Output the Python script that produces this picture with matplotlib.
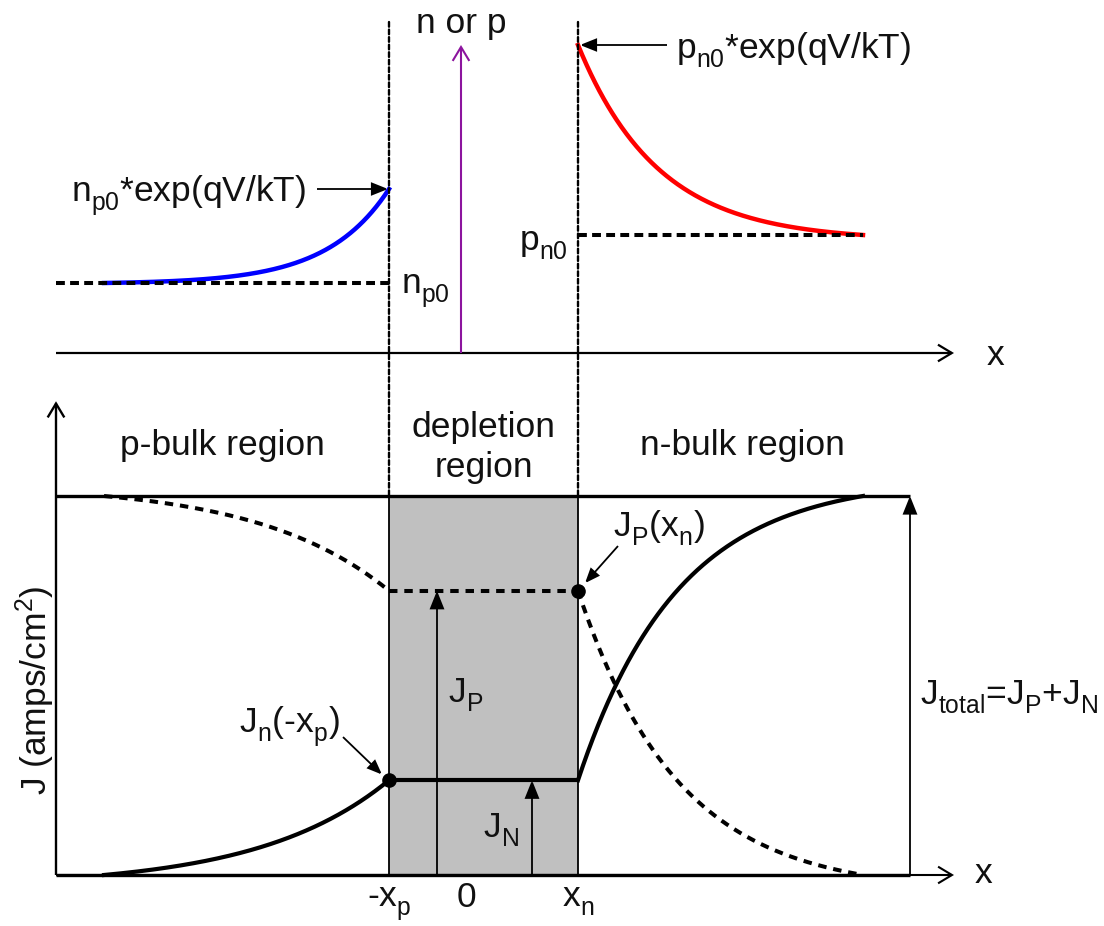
import numpy as np
import matplotlib
matplotlib.use("Agg")
import matplotlib.pyplot as plt
from matplotlib.patches import FancyArrowPatch, Rectangle, ConnectionPatch

plt.rcParams['font.family'] = ['Liberation Sans', 'DejaVu Sans']
plt.rcParams['mathtext.fontset'] = 'custom'
plt.rcParams['mathtext.rm'] = 'Liberation Sans'

# Lower subscripts a little further below the baseline
try:
    import matplotlib._mathtext as _mt
    _mt.FontConstantsBase.sub1 = 0.5
except Exception:
    pass

# ---- positions along the device (0 = metallurgical junction) ----
X_P_EDGE = -0.72        # -x_p, edge of depletion region on the p side
X_N_EDGE = 1.17         # x_n, edge of depletion region on the n side
BULK_LEFT = -3.57       # end of plotted p-bulk profile
BULK_RIGHT = 4.02       # end of plotted n-bulk profile
AXIS_START = -4.05
AXIS_END = 4.93
J_TOTAL_X = 4.49
JP_ARROW_X = -0.24
JN_ARROW_X = 0.71

# ---- minority carrier concentrations (arbitrary units) ----
n_p0 = 0.70
n_p_edge = 1.64         # n_p0*exp(qV/kT)
p_n0 = 1.18
p_n_edge = 3.08         # p_n0*exp(qV/kT)
L_n = 0.62              # electron diffusion length in the p bulk
L_p = 0.80              # hole diffusion length in the n bulk

# ---- current densities (normalised to J_total) ----
J_total = 1.0
J_n_edge = 0.25         # J_n(-x_p)
J_p_edge = 0.75         # J_P(x_n)
L_n_J = 1.3
L_p_J = 1.0

FS = 25.5
TXT = '#111111'


def decay(d, L, W):
    """Exponential decay over distance d, pinned to zero at distance W."""
    return (np.exp(-d / L) - np.exp(-W / L)) / (1.0 - np.exp(-W / L))


W_left = X_P_EDGE - BULK_LEFT
W_right = BULK_RIGHT - X_N_EDGE
x_left = np.linspace(BULK_LEFT, X_P_EDGE, 400)
x_right = np.linspace(X_N_EDGE, BULK_RIGHT, 400)

n_profile = n_p0 + (n_p_edge - n_p0) * decay(X_P_EDGE - x_left, L_n, W_left)
p_profile = p_n0 + (p_n_edge - p_n0) * decay(x_right - X_N_EDGE, L_p, W_right)

Jn_left = J_n_edge * decay(X_P_EDGE - x_left, L_n_J, W_left)
Jp_left = J_total - Jn_left
Jp_right = J_p_edge * decay(x_right - X_N_EDGE, L_p_J, W_right)
Jn_right = J_total - Jp_right

# ---- figure and the two panels (100 px per unit in both panels' x) ----
W_PX, H_PX = 1104, 926
fig = plt.figure(figsize=(W_PX / 100, H_PX / 100), dpi=100)
xlim = (-4.61, -4.61 + W_PX / 100)

ax_top = fig.add_axes([0, (H_PX - 353) / H_PX, 1, 300 / H_PX])
ax_top.set_xlim(*xlim)
ax_top.set_ylim(0, 3.0)
ax_bot = fig.add_axes([0, (H_PX - 875) / H_PX, 1, 379 / H_PX])
ax_bot.set_xlim(*xlim)
ax_bot.set_ylim(0, 1.0)
for ax in (ax_top, ax_bot):
    ax.set_axis_off()


def arrow(ax, start, end, style, color='black', lw=1.3, ms=20, z=5):
    ax.add_patch(FancyArrowPatch(start, end, arrowstyle=style, mutation_scale=ms,
                                 lw=lw, color=color, clip_on=False,
                                 shrinkA=0, shrinkB=0, zorder=z,
                                 joinstyle='miter', capstyle='butt'))


OPEN = '->,head_length=0.5,head_width=0.3'
FILLED = '-|>,head_length=0.55,head_width=0.22'

# ================= top panel: carrier concentration =================
arrow(ax_top, (AXIS_START, 0), (AXIS_END, 0), OPEN, lw=1.6, ms=20)
arrow(ax_top, (0, 0), (0, p_n_edge), OPEN, color='#8c149e', lw=1.5, ms=20)
ax_top.text(0, 3.20, 'n or p', ha='center', va='baseline', fontsize=FS, color=TXT)
ax_top.text(5.34, -0.12, 'x', ha='center', va='baseline', fontsize=FS, color=TXT)

ax_top.plot(x_left, n_profile, color='#0000ff', lw=3.2, clip_on=False, zorder=3)
ax_top.plot(x_right, p_profile, color='#ff0000', lw=3.2, clip_on=False, zorder=3)
ax_top.plot([AXIS_START, X_P_EDGE], [n_p0, n_p0], color='black', lw=2.9,
            ls=(0, (2.2, 1.3)), clip_on=False, zorder=4)
ax_top.plot([X_N_EDGE, BULK_RIGHT], [p_n0, p_n0], color='black', lw=2.9,
            ls=(0, (2.2, 1.3)), clip_on=False, zorder=4)

ax_top.text(-1.55, 1.52, r'n$\mathregular{_{p0}}$*exp(qV/kT)', ha='right',
            va='baseline', fontsize=FS, color=TXT)
arrow(ax_top, (-1.44, n_p_edge), (X_P_EDGE - 0.01, n_p_edge), FILLED, lw=1.3, ms=18)
ax_top.text(-0.60, 0.59, r'n$\mathregular{_{p0}}$', ha='left', va='baseline',
            fontsize=FS, color=TXT)
ax_top.text(1.07, 1.02, r'p$\mathregular{_{n0}}$', ha='right', va='baseline',
            fontsize=FS, color=TXT)
ax_top.text(2.15, 2.95, r'p$\mathregular{_{n0}}$*exp(qV/kT)', ha='left',
            va='baseline', fontsize=FS, color=TXT)
arrow(ax_top, (2.06, p_n_edge), (X_N_EDGE + 0.02, p_n_edge), FILLED, lw=1.3, ms=18)

# depletion edges, running from the top panel down to the J panel
for xe in (X_P_EDGE, X_N_EDGE):
    con = ConnectionPatch(xyA=(xe, 3.31), coordsA=ax_top.transData,
                          xyB=(xe, J_total), coordsB=ax_bot.transData,
                          color='black', lw=1.7, ls=(0, (2.0, 1.2)), zorder=6)
    fig.add_artist(con)

# ================= bottom panel: current density =================
ax_bot.add_patch(Rectangle((X_P_EDGE, 0), X_N_EDGE - X_P_EDGE, J_total,
                           facecolor='#c0c0c0', edgecolor='black', lw=1.3,
                           zorder=1, clip_on=False))

arrow(ax_bot, (AXIS_START, 0), (AXIS_END, 0), OPEN, lw=1.5, ms=20, z=2)
ax_bot.plot([AXIS_START, J_TOTAL_X], [0, 0], color='black', lw=2.4,
            clip_on=False, zorder=3, solid_capstyle='butt')
ax_bot.plot([AXIS_START, J_TOTAL_X], [J_total, J_total], color='black', lw=2.4,
            clip_on=False, zorder=3, solid_capstyle='butt')
arrow(ax_bot, (AXIS_START, 0), (AXIS_START, 1.25), OPEN, lw=1.7, ms=20, z=3)
ax_bot.text(5.22, -0.021, 'x', ha='center', va='baseline', fontsize=FS, color=TXT)
ax_bot.text(-4.26, 0.488, r'J (amps/cm$\mathregular{^2}$)', rotation=90,
            ha='center', va='center', fontsize=FS, color=TXT)

# electron current (solid) and hole current (dashed)
ax_bot.plot(x_left, Jn_left, color='black', lw=3.0, clip_on=False, zorder=4)
ax_bot.plot([X_P_EDGE, X_N_EDGE], [J_n_edge, J_n_edge], color='black', lw=3.0,
            clip_on=False, zorder=4, solid_capstyle='butt')
ax_bot.plot(x_right, Jn_right, color='black', lw=3.0, clip_on=False, zorder=4)

DASH = (0, (2.1, 1.7))
ax_bot.plot(x_left, Jp_left, color='black', lw=2.9, ls=DASH, clip_on=False, zorder=4)
ax_bot.plot([X_P_EDGE, X_N_EDGE], [J_p_edge, J_p_edge], color='black', lw=2.9,
            ls=DASH, clip_on=False, zorder=4)
ax_bot.plot(x_right, Jp_right, color='black', lw=2.9, ls=DASH, clip_on=False, zorder=4)

ax_bot.plot([X_P_EDGE, X_N_EDGE], [J_n_edge, J_p_edge], 'o', color='black',
            ms=9.5, clip_on=False, zorder=7)

# component and total current arrows
arrow(ax_bot, (JP_ARROW_X, 0), (JP_ARROW_X, J_p_edge), FILLED, lw=1.3, ms=20)
arrow(ax_bot, (JN_ARROW_X, 0), (JN_ARROW_X, J_n_edge), FILLED, lw=1.3, ms=20)
arrow(ax_bot, (J_TOTAL_X, 0), (J_TOTAL_X, J_total), FILLED, lw=1.3, ms=20)

ax_bot.text(-0.13, 0.454, r'J$\mathregular{_P}$', ha='left', va='baseline',
            fontsize=FS, color=TXT)
ax_bot.text(0.22, 0.098, r'J$\mathregular{_N}$', ha='left', va='baseline',
            fontsize=FS, color=TXT)
ax_bot.text(4.59, 0.451, r'J$\mathregular{_{total}}$=J$\mathregular{_P}$+J$\mathregular{_N}$',
            ha='left', va='baseline', fontsize=FS, color=TXT)

ax_bot.text(-1.21, 0.375, r'J$\mathregular{_n}$(-x$\mathregular{_p}$)', ha='right',
            va='baseline', fontsize=FS, color=TXT)
arrow(ax_bot, (-1.18, 0.364), (X_P_EDGE - 0.07, J_n_edge + 0.015), FILLED, lw=1.3, ms=16)
ax_bot.text(1.52, 0.894, r'J$\mathregular{_P}$(x$\mathregular{_n}$)', ha='left',
            va='baseline', fontsize=FS, color=TXT)
arrow(ax_bot, (1.57, 0.868), (X_N_EDGE + 0.07, J_p_edge + 0.02), FILLED, lw=1.3, ms=16)

# region names
ax_bot.text((AXIS_START + X_P_EDGE) / 2, 1.108, 'p-bulk region', ha='center',
            va='baseline', fontsize=FS, color=TXT)
ax_bot.text((X_P_EDGE + X_N_EDGE) / 2, 1.156, 'depletion', ha='center',
            va='baseline', fontsize=FS, color=TXT)
ax_bot.text((X_P_EDGE + X_N_EDGE) / 2, 1.050, 'region', ha='center',
            va='baseline', fontsize=FS, color=TXT)
ax_bot.text(2.81, 1.108, 'n-bulk region', ha='center', va='baseline',
            fontsize=FS, color=TXT)

# position ticks
ax_bot.text(X_P_EDGE, -0.084, r'-x$\mathregular{_p}$', ha='center', va='baseline',
            fontsize=FS, color=TXT)
ax_bot.text(0.05, -0.084, '0', ha='center', va='baseline', fontsize=FS, color=TXT)
ax_bot.text(X_N_EDGE, -0.084, r'x$\mathregular{_n}$', ha='center', va='baseline',
            fontsize=FS, color=TXT)

fig.savefig('out.png', dpi=100, facecolor='white')
